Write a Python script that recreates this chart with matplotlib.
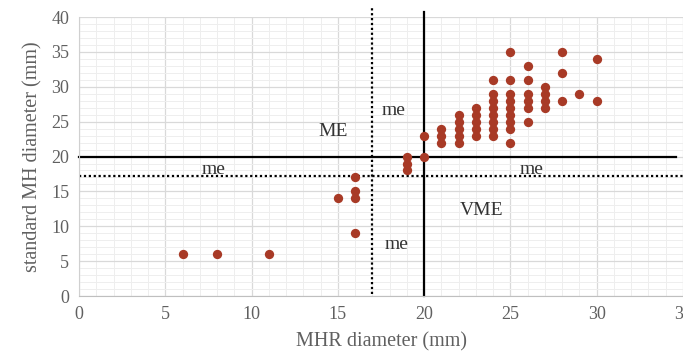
import matplotlib
matplotlib.use("Agg")
from matplotlib import pyplot as plt
from matplotlib.ticker import MultipleLocator

# MHR diameter (x) vs standard MH diameter (y)
mhr = [6, 8, 11, 15, 16, 16, 16, 16,
       19, 19, 19, 20, 20,
       21, 21, 21,
       22, 22, 22, 22, 22,
       23, 23, 23, 23, 23,
       24, 24, 24, 24, 24, 24, 24, 24,
       25, 25, 25, 25, 25, 25, 25, 25, 25,
       26, 26, 26, 26, 26, 26,
       27, 27, 27, 27,
       28, 28, 28, 29, 30, 30]
mh = [6, 6, 6, 14, 17, 15, 14, 9,
      18, 19, 20, 20, 23,
      22, 23, 24,
      22, 23, 24, 25, 26,
      23, 24, 25, 26, 27,
      23, 24, 25, 26, 27, 28, 29, 31,
      22, 24, 25, 26, 27, 28, 29, 31, 35,
      25, 27, 28, 29, 31, 33,
      27, 28, 29, 30,
      28, 32, 35, 29, 28, 34]

# cut-off lines
solid_cut = 20
dotted_cut = 17.2
dotted_cut_x = 17

region_labels = ["ME", "me", "me", "me", "me", "VME"]
label_x = [14.7, 18.2, 7.8, 26.2, 18.4, 23.3]
label_y = [23.6, 26.6, 18.2, 18.2, 7.4, 12.2]

plt.rcParams['font.family'] = ['Liberation Serif', 'DejaVu Serif']

fig = plt.figure(figsize=(6.83, 3.56), dpi=100)
ax = fig.add_axes([0.1157, 0.1685, 0.8843, 0.7835])
ax.set_xlim(0, 35)
ax.set_ylim(0, 40)

ax.xaxis.set_major_locator(MultipleLocator(5))
ax.yaxis.set_major_locator(MultipleLocator(5))
ax.xaxis.set_minor_locator(MultipleLocator(1))
ax.yaxis.set_minor_locator(MultipleLocator(1))
ax.grid(which='major', color='#d9d9d9', lw=0.9)
ax.grid(which='minor', color='#eeeeee', lw=0.7)
ax.set_axisbelow(True)
ax.tick_params(which='both', length=0, labelsize=13, labelcolor='#606060')
ax.tick_params(axis='x', pad=7)
ax.tick_params(axis='y', pad=7)

for side in ['top', 'right']:
    ax.spines[side].set_visible(False)
ax.spines['left'].set_color('#d0d0d0')
ax.spines['bottom'].set_color('#bfbfbf')

# threshold lines
ax.plot([0, 34.6], [solid_cut, solid_cut], color='black', lw=1.6, clip_on=False)
ax.plot([solid_cut, solid_cut], [0, 40.7], color='black', lw=1.6, clip_on=False)
ax.plot([0, 35], [dotted_cut, dotted_cut], color='black', lw=1.6, ls=(0, (1, 1.2)), clip_on=False)
ax.plot([dotted_cut_x, dotted_cut_x], [0.3, 41.3], color='black', lw=1.6, ls=(0, (1, 1.2)), clip_on=False)

ax.scatter(mhr, mh, s=45, color='#A83A26', zorder=3, linewidths=0)

for t, x, y in zip(region_labels, label_x, label_y):
    ax.text(x, y, t, ha='center', va='center', fontsize=14, color='#333333')

ax.set_xlabel("MHR diameter (mm)", fontsize=14.5, color='#606060', labelpad=7)
ax.set_ylabel("standard MH diameter (mm)", fontsize=14.5, color='#606060', labelpad=6)

fig.savefig("out.png", dpi=100)
